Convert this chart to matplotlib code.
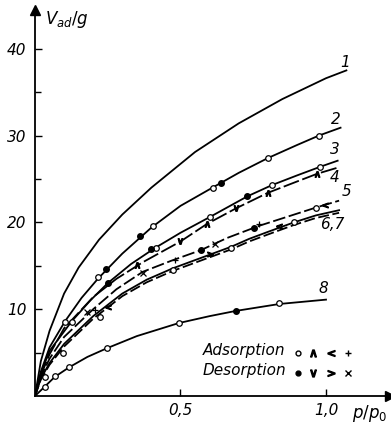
import matplotlib
matplotlib.use("Agg")
import matplotlib.pyplot as plt

# curve lines (p/p0, V_ad/g)
p1 = [0, 0.02, 0.05, 0.1, 0.15, 0.22, 0.3, 0.4, 0.55, 0.7, 0.85, 1.0, 1.07]
v1 = [0, 4.0, 7.5, 11.8, 14.8, 18.0, 20.9, 24.0, 28.1, 31.4, 34.2, 36.6, 37.5]

p2 = [0, 0.02, 0.05, 0.103, 0.16, 0.216, 0.3, 0.4, 0.5, 0.61, 0.7, 0.8, 0.9, 0.976, 1.05]
v2 = [0, 2.8, 5.6, 8.6, 11.3, 13.5, 16.4, 19.4, 21.9, 24.0, 25.7, 27.4, 28.9, 30.0, 30.9]

p3 = [0, 0.02, 0.05, 0.126, 0.19, 0.25, 0.33, 0.41, 0.5, 0.6, 0.73, 0.815, 0.9, 0.98, 1.04]
v3 = [0, 2.6, 5.2, 8.6, 11.0, 13.0, 15.2, 17.0, 18.8, 20.6, 23.0, 24.3, 25.4, 26.4, 27.1]

p4 = [0, 0.02, 0.05, 0.1, 0.2, 0.28, 0.37, 0.5, 0.59, 0.69, 0.8, 0.9, 0.97, 1.04]
v4 = [0, 2.4, 4.8, 7.8, 11.4, 13.5, 15.4, 17.8, 19.8, 21.6, 23.4, 24.7, 25.6, 26.3]

p5 = [0, 0.02, 0.05, 0.1, 0.2, 0.28, 0.37, 0.47, 0.57, 0.66, 0.77, 0.9, 0.965, 1.045]
v5 = [0, 2.2, 4.3, 6.8, 10.0, 12.3, 14.3, 15.6, 16.8, 18.2, 19.6, 21.0, 21.7, 22.5]

p6 = [0, 0.02, 0.05, 0.1, 0.2, 0.3, 0.384, 0.473, 0.57, 0.675, 0.736, 0.8, 0.89, 0.965, 1.045]
v6 = [0, 2.0, 3.8, 6.0, 9.2, 11.8, 13.4, 14.7, 15.9, 17.2, 18.1, 18.9, 20.0, 20.8, 21.4]
v7 = [0, 1.9, 3.6, 5.7, 8.9, 11.5, 13.1, 14.4, 15.6, 16.9, 17.8, 18.6, 19.7, 20.5, 21.1]

p8 = [0, 0.034, 0.068, 0.117, 0.18, 0.247, 0.35, 0.494, 0.6, 0.69, 0.84, 1.0]
v8 = [0, 1.1, 2.2, 3.3, 4.5, 5.5, 6.9, 8.4, 9.2, 9.8, 10.6, 11.1]

# measured points: adsorption (open) / desorption (filled)
circ_ads_p = [0.103, 0.216, 0.404, 0.61, 0.80, 0.976,
              0.126, 0.416, 0.60, 0.815, 0.98,
              0.223, 0.473, 0.675, 0.89, 0.965, 0.034, 0.096,
              0.034, 0.068, 0.117, 0.247, 0.494, 0.84]
circ_ads_v = [8.5, 13.7, 19.6, 23.9, 27.4, 30.0,
              8.5, 17.1, 20.6, 24.3, 26.4,
              9.1, 14.5, 17.1, 20.0, 21.7, 2.2, 4.9,
              1.0, 2.3, 3.3, 5.5, 8.4, 10.7]
circ_des_p = [0.243, 0.36, 0.64, 0.25, 0.40, 0.73, 0.57, 0.753, 0.69]
circ_des_v = [14.6, 18.4, 24.5, 13.0, 16.9, 23.0, 16.8, 19.4, 9.8]

up_p = [0.35, 0.59, 0.80, 0.97]
up_v = [15.1, 19.8, 23.4, 25.6]
down_p = [0.5, 0.69]
down_v = [17.8, 21.6]

left_p = [0.25, 0.84, 0.995]
left_v = [10.3, 19.6, 22.0]
right_p = [0.6]
right_v = [16.3]

plus_p = [0.205, 0.48, 0.77]
plus_v = [9.9, 15.7, 19.8]
cross_p = [0.178, 0.37, 0.62]
cross_v = [9.7, 14.2, 17.5]

curve_labels = ["1", "2", "3", "4", "5", "6,7", "8"]
label_p = [1.065, 1.035, 1.03, 1.03, 1.07, 1.02, 0.99]
label_v = [38.4, 31.8, 28.4, 25.2, 23.6, 19.8, 12.4]

fig = plt.figure(figsize=(3.91, 4.26), dpi=100)
ax = fig.add_axes([0.0895, 0.0704, 0.908, 0.907])

lw = 1.3
ax.plot(p1, v1, color="black", lw=lw)
ax.plot(p2, v2, color="black", lw=lw)
ax.plot(p3, v3, color="black", lw=lw)
ax.plot(p4, v4, color="black", lw=lw, ls=(0, (9, 2)))
ax.plot(p5, v5, color="black", lw=lw, ls=(0, (7, 2)))
ax.plot(p6, v6, color="black", lw=lw)
ax.plot(p6, v7, color="black", lw=lw, ls=(0, (6, 2)))
ax.plot(p8, v8, color="black", lw=lw)

ms = 4
ax.plot(circ_ads_p, circ_ads_v, "o", ms=ms, mfc="white", mec="black", mew=0.9)
ax.plot(circ_des_p, circ_des_v, "o", ms=ms, mfc="black", mec="black")
ax.plot(up_p, up_v, marker=r"$\wedge$", ls="none", ms=4, color="black")
ax.plot(down_p, down_v, marker=r"$\vee$", ls="none", ms=4, color="black")
ax.plot(left_p, left_v, marker=r"$<$", ls="none", ms=4, color="black")
ax.plot(right_p, right_v, marker=r"$>$", ls="none", ms=4, color="black")
ax.plot(plus_p, plus_v, "+", ms=5, color="black", mew=0.9)
ax.plot(cross_p, cross_v, "x", ms=4, color="black", mew=0.9)

for lab, x, y in zip(curve_labels, label_p, label_v):
    ax.text(x, y, lab, fontsize=11, style="italic", ha="center", va="center")

ax.set_xlim(0, 1.22)
ax.set_ylim(0, 44.5)
ax.spines["top"].set_visible(False)
ax.spines["right"].set_visible(False)
ax.spines["left"].set_linewidth(1.3)
ax.spines["bottom"].set_linewidth(1.3)
ax.plot(1, 0, ">k", ms=7, transform=ax.transAxes, clip_on=False)
ax.plot(0, 1, "^k", ms=7, transform=ax.transAxes, clip_on=False)

ax.set_yticks([10, 20, 30, 40])
ax.set_yticks([5, 15, 25, 35], minor=True)
ax.set_xticks([0.5, 1.0])
ax.set_xticklabels(["0,5", "1,0"], fontsize=11, style="italic")
ax.set_yticklabels(["10", "20", "30", "40"], fontsize=11, style="italic")
ax.tick_params(axis="both", which="major", direction="in", length=5, width=1, pad=6)
ax.tick_params(axis="x", which="major", pad=5)
ax.tick_params(axis="y", which="minor", direction="in", length=4, width=1)

fig.text(45 / 391, 1 - 20 / 426, r"$V_{ad}/g$", fontsize=12, ha="left", va="center")
fig.text(352 / 391, 1 - 413 / 426, r"$p/p_0$", fontsize=12, ha="left", va="center")

fig.text(203 / 391, 1 - 351 / 426, "Adsorption", fontsize=11, style="italic", va="center")
fig.text(203 / 391, 1 - 371 / 426, "Desorption", fontsize=11, style="italic", va="center")
tf = fig.transFigure
row1 = 1 - 353 / 426
row2 = 1 - 373 / 426
ax.plot([298 / 391], [row1], "o", ms=3.5, mfc="white", mec="black", transform=tf, clip_on=False)
ax.plot([313 / 391], [row1], marker=r"$\wedge$", ms=5, color="black", transform=tf, clip_on=False)
ax.plot([331 / 391], [row1], marker=r"$<$", ms=5, color="black", transform=tf, clip_on=False)
ax.plot([348 / 391], [row1], "+", ms=5, color="black", transform=tf, clip_on=False)
ax.plot([298 / 391], [row2], "o", ms=3.5, color="black", transform=tf, clip_on=False)
ax.plot([313 / 391], [row2], marker=r"$\vee$", ms=5, color="black", transform=tf, clip_on=False)
ax.plot([331 / 391], [row2], marker=r"$>$", ms=5, color="black", transform=tf, clip_on=False)
ax.plot([348 / 391], [row2], "x", ms=4, color="black", transform=tf, clip_on=False)

fig.savefig("out.png", dpi=100)
